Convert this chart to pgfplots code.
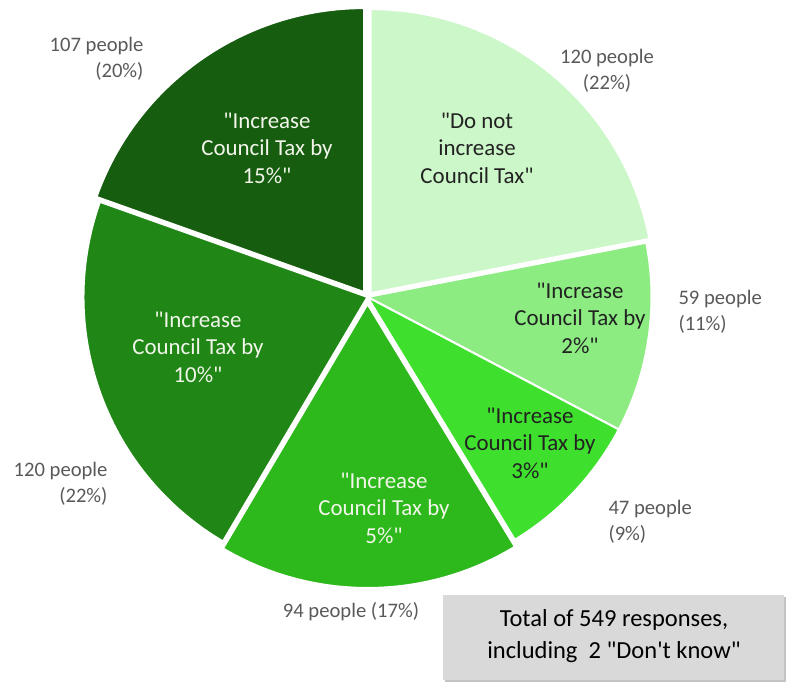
\documentclass[border=0pt]{standalone}
\usepackage{fontspec}
\setmainfont{Carlito}[Ligatures=TeXOff]
\usepackage{pgfplots}
\usepackage{pgfplotstable}
\pgfplotsset{compat=1.18}
\definecolor{s0}{HTML}{CCF7C9}
\definecolor{s1}{HTML}{8CEC82}
\definecolor{s2}{HTML}{3EE02D}
\definecolor{s3}{HTML}{2DB91C}
\definecolor{s4}{HTML}{208717}
\definecolor{s5}{HTML}{175D10}
\definecolor{outtxt}{HTML}{595959}
\definecolor{darktxt}{HTML}{222222}
\definecolor{lighttxt}{HTML}{F2F5EA}
\definecolor{boxgray}{HTML}{D9D9D9}
\definecolor{boxshadow}{HTML}{C4C4C4}
\pgfdeclareplotmark{emptymark}{}
\newcommand\innerfont{\fontsize{23}{27.5}\selectfont}
\newcommand\outerfont{\fontsize{20.7}{26}\selectfont}
\newcommand\boxfont{\fontsize{24.6}{32}\selectfont}

% center x, center y (pixels from top), responses before the slice, responses, explode, colour index
\pgfplotstableread{
cx cy cum count ex ci
367.5 297 0 120 5 0
367.5 297 120 59 0 1
367.5 297 179 47 0 2
367.5 297 226 94 7 3
367.5 297 320 120 0 4
367.5 297 440 107 6 5
}\piedata

\begin{document}
\begin{tikzpicture}
\begin{axis}[name=ax,
  scale only axis, width=786bp, height=682bp,
  xmin=0, xmax=786, ymin=0, ymax=682, y dir=reverse,
  hide axis, clip=false]
\addplot[draw=none] coordinates {(0,0) (786,682)};
\addplot[scatter, only marks, mark=emptymark,
  visualization depends on={\thisrow{cum} \as \pcum},
  visualization depends on={\thisrow{count} \as \pcnt},
  visualization depends on={\thisrow{ex} \as \pex},
  visualization depends on={\thisrow{ci} \as \pci},
  scatter/@pre marker code/.code={%
    \begin{scope}
    \pgfkeys{/pgf/fpu=false}%
    \pgfmathsetmacro\pSa{90-(\pcum/547)*360}%
    \pgfmathsetmacro\pEa{90-((\pcum+\pcnt)/547)*360}%
    \pgfmathsetmacro\pMa{(\pSa+\pEa)/2}%
    \pgfmathtruncatemacro\pIdx{\pci}%
    \pgfmathsetmacro\pEx{\pex}%
    \fill[fill=s\pIdx, draw=white, line width=2bp]
      (\pMa:\pEx bp) -- ++(\pSa:284bp)
      arc[start angle=\pSa, end angle=\pEa, radius=284bp] -- cycle;
    \end{scope}
  },
  scatter/@post marker code/.code={},
] table[x=cx, y=cy] {\piedata};

% labels outside
\node[align=center, text=outtxt, font=\outerfont] at (axis cs:607,71) {120 people\\(22\%)};
\node[align=left, anchor=west, text=outtxt, font=\outerfont] at (axis cs:675,312) {59 people\\(11\%)};
\node[align=left, anchor=west, text=outtxt, font=\outerfont] at (axis cs:605,522) {47 people\\(9\%)};
\node[text=outtxt, font=\outerfont] at (axis cs:351,612) {94 people (17\%)};
\node[align=right, anchor=east, text=outtxt, font=\outerfont] at (axis cs:111,484) {120 people\\(22\%)};
\node[align=right, anchor=east, text=outtxt, font=\outerfont] at (axis cs:147,59) {107 people\\(20\%)};

% total box
\fill[boxshadow] (axis cs:445,597) rectangle (axis cs:786,682);
\fill[boxgray] (axis cs:443,595) rectangle (axis cs:784,680);
\node[align=center, text=black, font=\boxfont] at (axis cs:614,636) {Total of 549 responses,\\including~~2 "Don't know"};
\end{axis}
% labels inside slices (1 axis unit = 1bp, origin at the top left corner)
\node[align=center, text=darktxt, font=\innerfont] at ([xshift=477bp, yshift=-148bp]ax.north west) {"Do not\\increase\\Council Tax"};
\node[align=center, text=darktxt, font=\innerfont] at ([xshift=580bp, yshift=-318bp]ax.north west) {"Increase\\Council Tax by\\2\%"};
\node[align=center, text=darktxt, font=\innerfont] at ([xshift=530bp, yshift=-443bp]ax.north west) {"Increase\\Council Tax by\\3\%"};
\node[align=center, text=lighttxt, font=\innerfont] at ([xshift=384bp, yshift=-508bp]ax.north west) {"Increase\\Council Tax by\\5\%"};
\node[align=center, text=lighttxt, font=\innerfont] at ([xshift=198bp, yshift=-347bp]ax.north west) {"Increase\\Council Tax by\\10\%"};
\node[align=center, text=lighttxt, font=\innerfont] at ([xshift=267bp, yshift=-148bp]ax.north west) {"Increase\\Council Tax by\\15\%"};
\end{tikzpicture}
\end{document}
